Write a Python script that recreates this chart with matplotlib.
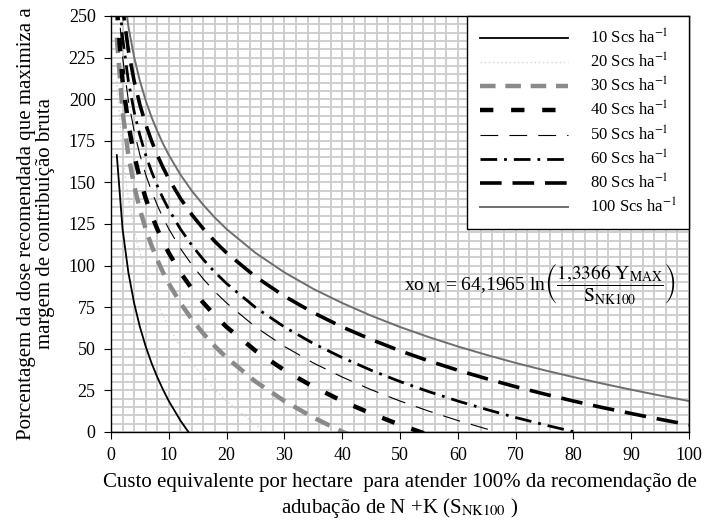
import matplotlib
matplotlib.use("Agg")
import matplotlib.pyplot as plt
from matplotlib.ticker import MultipleLocator

plt.rcParams["font.family"] = ["Liberation Serif", "DejaVu Serif"]
plt.rcParams["mathtext.fontset"] = "stix"

# custo equivalente (S_NK100)
custo = [1, 2, 3, 4, 5, 6, 7, 8, 9, 10, 12, 14, 16, 18, 20, 25, 30, 35, 40, 45,
         50, 55, 60, 65, 70, 75, 80, 85, 90, 95, 100]

# porcentagem da dose recomendada
y10 = [166.4, 121.9, 95.9, 77.4, 63.1, 51.4, 41.5, 33.0, 25.4, 18.6, 6.9, -3.0]
y20 = [210.9, 166.4, 140.4, 121.9, 107.6, 95.9, 86.0, 77.4, 69.9, 63.1, 51.4,
       41.5, 33.0, 25.4, 18.6, 4.3, -7.4]
y30 = [237.0, 192.5, 166.4, 148.0, 133.7, 122.0, 112.1, 103.5, 95.9, 89.2, 77.5,
       67.6, 59.0, 51.4, 44.7, 30.3, 18.6, 8.7, 0.2, -7.4]
y40 = [255.4, 210.9, 184.9, 166.4, 152.1, 140.4, 130.5, 122.0, 114.4, 107.6, 95.9,
       86.0, 77.5, 69.9, 63.1, 48.8, 37.1, 27.2, 18.6, 11.1, 4.3, -1.8]
y50 = [269.8, 225.3, 199.2, 180.8, 166.5, 154.7, 144.9, 136.3, 128.7, 122.0, 110.3,
       100.4, 91.8, 84.2, 77.5, 63.1, 51.4, 41.5, 33.0, 25.4, 18.6, 12.5, 6.9, 1.8,
       -3.0]
y60 = [281.5, 237.0, 210.9, 192.5, 178.2, 166.4, 156.6, 148.0, 140.4, 133.7, 122.0,
       112.1, 103.5, 95.9, 89.2, 74.8, 63.1, 53.2, 44.7, 37.1, 30.3, 24.2, 18.6, 13.5,
       8.7, 4.3, 0.2, -3.7]
y80 = [299.9, 255.4, 229.4, 210.9, 196.6, 184.9, 175.0, 166.5, 158.9, 152.1, 140.4,
       130.5, 122.0, 114.4, 107.6, 93.3, 81.6, 71.7, 63.1, 55.6, 48.8, 42.7, 37.1, 32.0,
       27.2, 22.8, 18.6, 14.7, 11.1, 7.6, 4.3]
y100 = [314.3, 269.8, 243.7, 225.3, 210.9, 199.2, 189.3, 180.8, 173.2, 166.4, 154.7,
        144.8, 136.3, 128.7, 121.9, 107.6, 95.9, 86.0, 77.5, 69.9, 63.1, 57.0, 51.4,
        46.3, 41.5, 37.1, 33.0, 29.1, 25.4, 21.9, 18.6]

series = [
    ("10", y10, dict(color="black", lw=1.3, ls="-")),
    ("20", y20, dict(color="#d4d4d4", lw=1.0, ls=(0, (1, 2)))),
    ("30", y30, dict(color="#8a8a8a", lw=3.2, ls=(0, (3.5, 2.2)))),
    ("40", y40, dict(color="black", lw=3.2, ls=(0, (3, 4)))),
    ("50", y50, dict(color="black", lw=0.8, ls=(0, (16, 10)))),
    ("60", y60, dict(color="black", lw=2.0, ls=(0, (6, 2.5, 1, 2.5)))),
    ("80", y80, dict(color="black", lw=2.6, ls=(0, (6, 3)))),
    ("100", y100, dict(color="#6e6e6e", lw=1.4, ls="-")),
]

fig = plt.figure(figsize=(7.04, 5.29), dpi=100)
ax = fig.add_axes([0.1577, 0.1834, 0.821, 0.7864])

for nome, vals, st in series:
    ax.plot(custo[:len(vals)], vals, label=nome + " Scs ha$^{-1}$", **st)

ax.set_xlim(0, 100)
ax.set_ylim(0, 250)
ax.xaxis.set_major_locator(MultipleLocator(10))
ax.xaxis.set_minor_locator(MultipleLocator(2))
ax.yaxis.set_major_locator(MultipleLocator(25))
ax.yaxis.set_minor_locator(MultipleLocator(5))
ax.grid(which="both", color="#cccccc", lw=1.3)
ax.set_axisbelow(True)
ax.tick_params(which="major", direction="out", length=5, pad=6, labelsize=13,
               color="black")
ax.tick_params(which="minor", length=0)
for s in ax.spines.values():
    s.set_color("black")
    s.set_linewidth(1.0)

ax.set_xlabel("Custo equivalente por hectare  para atender 100% da recomendação de\n"
              "adubação de N +K (S$_{\\rm NK100}$ )", fontsize=15, labelpad=6,
              linespacing=1.25)
ax.set_ylabel("Porcentagem da dose recomendada que maximiza a\n"
              "margem de contribuição bruta", fontsize=15, labelpad=10,
              linespacing=1.0)

ax.text(74.2, 89, r"xo$_{\rm\ M}$ = 64,1965 ln$\left(\dfrac{1{,}3366\ \rm Y_{MAX}}{\rm S_{NK100}}\right)$",
        ha="center", va="center", fontsize=14)

leg = ax.legend(loc="upper right", borderaxespad=0, fancybox=False, framealpha=1,
                edgecolor="black", fontsize=12, handlelength=5.3, labelspacing=0.3,
                handletextpad=1.3, borderpad=0.75)
leg.get_frame().set_linewidth(1.0)

fig.savefig("out.png", dpi=100)
